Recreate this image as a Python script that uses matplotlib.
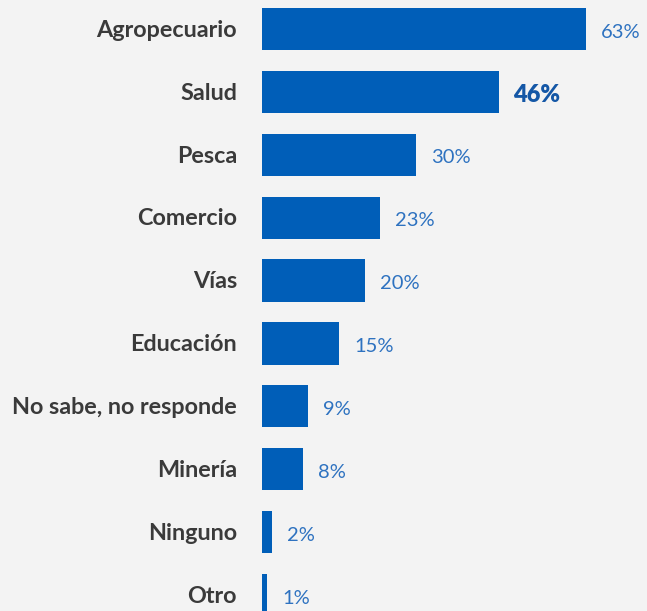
import matplotlib.pyplot as plt

categories = ["Agropecuario", "Salud", "Pesca", "Comercio", "Vías", "Educación",
              "No sabe, no responde", "Minería", "Ninguno", "Otro"]
values = [63, 46, 30, 23, 20, 15, 9, 8, 2, 1]
highlight = "Salud"

bg = "#f3f3f3"
bar_color = "#005eb8"
label_color = "#3a3a3a"
value_color = "#2e72c0"

plt.rcParams['font.family'] = ['Lato', 'DejaVu Sans']

fig = plt.figure(figsize=(6.47, 6.11), dpi=100, facecolor=bg)
ax = fig.add_axes([0.405, 0.0, 0.557, 1.0], facecolor=bg)

pos = list(range(len(categories)))
ax.barh(pos, values, height=0.67, color=bar_color)

ax.set_xlim(0, 70)
ax.set_ylim(9.254, -0.461)

for p, cat, v in zip(pos, categories, values):
    # category name to the left of each bar
    ax.text(-4.85, p + 0.02, cat, ha='right', va='center', fontsize=16.8,
            fontweight='bold', color=label_color)
    if cat == highlight:
        ax.text(v + 2.7, p + 0.05, f"{v}%", ha='left', va='center', fontsize=17,
                fontweight='heavy', color="#1457a6")
    else:
        ax.text(v + 2.9, p + 0.05, f"{v}%", ha='left', va='center', fontsize=14.5,
                color=value_color)

ax.set_xticks([])
ax.set_yticks([])
for s in ax.spines.values():
    s.set_visible(False)

fig.savefig("out.png", dpi=100, facecolor=bg)
